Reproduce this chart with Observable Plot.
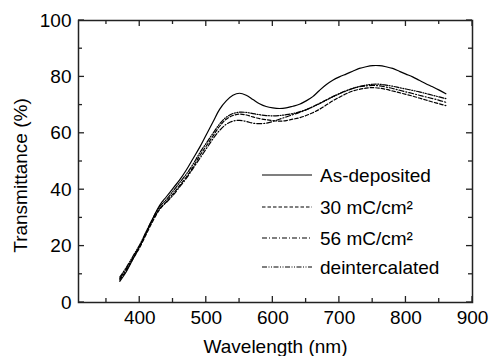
<!DOCTYPE html>
<html><head><meta charset="utf-8">
<script src="https://cdn.jsdelivr.net/npm/d3@7"></script>
<script src="https://cdn.jsdelivr.net/npm/@observablehq/plot@0.6"></script>
<style>body{margin:0;background:#fff}</style>
</head><body><div id="chart"></div>
<script>
const wavelength = [370,380,390,400,410,420,430,440,450,460,470,480,490,500,510,520,530,540,550,560,570,580,590,600,610,620,630,640,650,660,670,680,690,700,710,720,730,740,750,760,770,780,790,800,810,820,830,840,850,860];
const asDeposited = [7.5,11,15.5,20,25,30,34.5,37.5,40.5,43.5,47,51,55,59.5,64,68.5,71.5,73.5,74.2,73.5,72,70.5,69.5,69,68.8,69,69.6,70.3,71.5,73,75.2,77.2,78.8,80,81,82,83,83.6,84,84,83.6,83,82,81,80,78.8,77.6,76.5,75.3,74];
const mc30 = [8,11.5,15.5,19.5,24.3,29,33,35.8,38.5,41.5,44.5,48,52,55.5,59,62.5,65,66.3,66.8,66.5,65.8,65.2,64.8,64.5,64.3,64.5,65,65.5,66.3,67.3,68.5,70,71.5,72.8,74,75,75.6,76,76.2,76,75.6,75,74.4,73.8,73.2,72.5,71.8,71.1,70.5,69.8];
const mc56 = [8.5,12,16,20,24.8,29.5,33.3,35.5,38,41,44,47.5,51,54.5,58,61,63.2,64.3,64.6,64.2,63.6,63.4,63.6,64.2,65,65.8,66.6,67.4,68.3,69.4,70.6,71.8,73,74.1,75.1,75.9,76.5,76.8,77,76.8,76.4,75.9,75.3,74.7,74.1,73.5,72.9,72.3,71.7,71];
const deintercalated = [9,12.5,16.5,20.5,25.3,30,34,36.5,39.5,42.5,45.5,49,53,56.5,60,63.3,65.7,67,67.5,67.4,67,66.6,66.3,66.2,66.3,66.6,67,67.6,68.4,69.4,70.5,71.7,72.9,74,75,75.9,76.6,77.1,77.4,77.4,77.1,76.7,76.2,75.7,75.2,74.7,74.1,73.5,72.9,72.3];

const seriesNames = ["As-deposited", "30 mC/cm²", "56 mC/cm²", "deintercalated"];
const seriesValues = [asDeposited, mc30, mc56, deintercalated];
const dashes = [null, "3.5,2", "5,2,1,2", "5,1.5,1,1.5,1,1.5"];

const xMajor = [400,500,600,700,800,900];
const xMinor = [350,450,550,650,750,850];
const yMajor = [0,20,40,60,80,100];
const yMinor = [10,30,50,70,90];
const xTitle = "Wavelength (nm)";
const yTitle = "Transmittance (%)";

const font = "'Liberation Sans', Arial, sans-serif";

const lineMarks = seriesValues.map((vals, i) =>
  Plot.line(wavelength.map((w, j) => ({w, t: vals[j]})), {
    x: "w", y: "t", stroke: "#000", strokeWidth: 1.2,
    strokeDasharray: dashes[i], curve: "catmull-rom"
  })
);

const chart = Plot.plot({
  width: 491, height: 356,
  marginLeft: 78, marginRight: 19, marginTop: 20, marginBottom: 54,
  style: {fontFamily: font, fontSize: "19px", color: "#000", background: "#fff"},
  x: {domain: [308, 900]},
  y: {domain: [0, 100]},
  marks: [
    Plot.axisX({ticks: xMajor, tickSize: 0, tickPadding: 8, label: null, fontSize: 19}),
    Plot.axisY({ticks: yMajor, tickSize: 0, tickPadding: 7, label: null, fontSize: 19}),
    ...lineMarks,
    Plot.frame({stroke: "#222", strokeWidth: 1.5}),
    Plot.text([xTitle], {frameAnchor: "bottom", text: d => d, textAnchor: "middle", lineAnchor: "top", dy: 37, fontSize: 19}),
    Plot.text([yTitle], {frameAnchor: "left", text: d => d, textAnchor: "middle", rotate: -90, dx: -58, dy: 14, fontSize: 19})
  ]
});

document.getElementById("chart").appendChild(chart);

// inward ticks drawn with the plot's scales
const sx = chart.scale("x"), sy = chart.scale("y");
const svg = d3.select(chart);
const g = svg.append("g").attr("stroke", "#222").attr("stroke-width", 1.3);
const x0 = sx.range[0], x1 = sx.range[1], y0 = sy.range[0], y1 = sy.range[1];
function xt(v, len) {
  const px = sx.apply(v);
  g.append("line").attr("x1", px).attr("x2", px).attr("y1", y0).attr("y2", y0 - len);
  g.append("line").attr("x1", px).attr("x2", px).attr("y1", y1).attr("y2", y1 + len);
}
function yt(v, len) {
  const py = sy.apply(v);
  g.append("line").attr("y1", py).attr("y2", py).attr("x1", x0).attr("x2", x0 + len);
  g.append("line").attr("y1", py).attr("y2", py).attr("x1", x1).attr("x2", x1 - len);
}
xMajor.forEach(v => xt(v, 6)); xMinor.forEach(v => xt(v, 4));
yMajor.forEach(v => yt(v, 6)); yMinor.forEach(v => yt(v, 4));

// legend
const lg = svg.append("g");
const rows = [175, 207, 238, 267];
seriesNames.forEach((name, i) => {
  lg.append("line").attr("x1", 262).attr("x2", 312).attr("y1", rows[i]).attr("y2", rows[i])
    .attr("stroke", "#000").attr("stroke-width", 1.2)
    .attr("stroke-dasharray", dashes[i]);
  lg.append("text").attr("x", 320).attr("y", rows[i]).attr("dy", "0.35em")
    .attr("text-anchor", "start")
    .attr("font-family", font).attr("font-size", 19).attr("fill", "#000").text(name);
});
</script>
</body></html>
